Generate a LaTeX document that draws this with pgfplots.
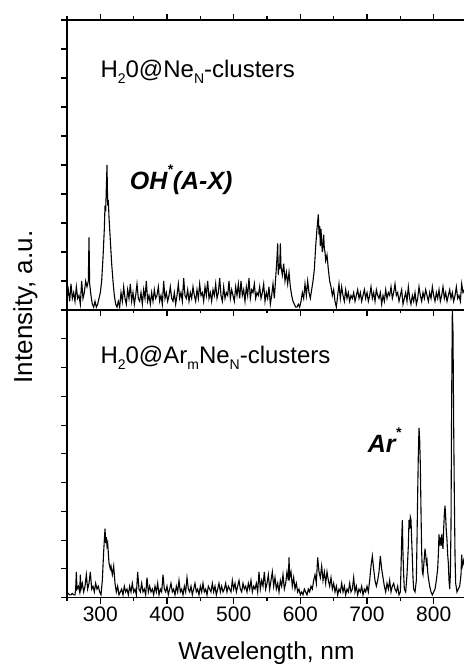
\documentclass[border=0pt]{standalone}
\usepackage{fontspec}
\setmainfont{Liberation Sans}
\usepackage{pgfplots}
\pgfplotsset{compat=1.18}

\newcommand{\lo}[1]{\raisebox{-0.28em}{\fontsize{14bp}{14bp}\selectfont #1}}
\newcommand{\hi}[1]{\raisebox{0.62em}{\fontsize{14bp}{14bp}\selectfont #1}}

% top panel: H2O in Ne clusters
\pgfplotstableread{
x y
250 0.4
252 0.7
254 0.3
256 0.9
258 0.4
260 0.6
262 0.3
264 0.8
266 0.4
268 0.5
270 0.2
272 1.0
274 0.4
276 0.6
278 1.0
280 0.8
282 1.0
283 2.5
284 0.9
286 0.5
288 0.2
290 0.1
292 0.3
294 0.1
296 0.2
298 0.4
300 0.6
302 1.0
304 1.8
306 2.8
307 3.6
308 3.4
309 4.2
310 5.0
311 3.6
312 3.8
313 3.2
315 2.4
317 1.6
319 1.0
321 0.5
323 0.2
325 0.1
327 0.3
329 0.1
331 0.6
333 0.3
335 0.8
337 0.4
339 0.2
341 0.7
343 0.4
345 0.9
347 0.3
349 0.6
351 0.2
353 0.5
355 0.9
357 0.4
359 0.3
361 0.6
363 0.2
365 0.7
367 0.4
369 1.0
371 0.3
373 0.5
375 0.2
377 0.6
379 0.3
381 0.7
383 0.4
385 0.5
387 0.8
389 0.3
391 0.5
393 0.2
395 1.0
397 0.4
399 0.6
401 0.3
403 0.5
405 0.8
407 0.4
409 0.3
411 0.6
413 0.2
415 0.5
417 0.9
419 0.4
421 0.6
423 0.3
425 1.1
427 0.5
429 0.4
431 0.7
433 0.3
435 0.6
437 0.4
439 0.8
441 0.5
443 0.3
445 0.7
447 0.4
449 0.9
451 0.5
453 0.6
455 0.3
457 0.8
459 0.5
461 1.0
463 0.4
465 0.6
467 0.3
469 0.7
471 0.5
473 0.9
475 0.4
477 0.6
479 1.1
481 0.5
483 0.3
485 0.8
487 0.4
489 0.6
491 0.5
493 1.0
495 0.4
497 0.7
499 0.5
501 0.3
503 0.8
505 0.5
507 0.9
509 0.4
511 1.0
513 0.5
515 0.7
517 0.3
519 0.8
521 0.5
523 1.1
525 0.4
527 0.7
529 0.6
531 0.9
533 0.4
535 0.6
537 0.5
539 0.8
541 0.4
543 0.6
545 0.9
547 0.3
549 0.6
551 0.4
553 0.8
555 0.2
557 0.5
559 0.9
561 0.4
563 1.1
565 1.8
566 2.3
567 1.2
568 1.6
569 1.4
570 2.3
571 1.5
573 1.2
575 1.6
577 1.0
579 1.3
581 0.9
583 1.3
585 0.8
587 0.5
589 0.3
591 0.2
593 0.1
595 0.1
597 0.2
599 0.1
601 0.3
603 0.6
605 0.4
607 0.9
609 0.5
611 1.0
613 0.6
615 0.4
617 0.7
619 1.0
621 1.4
623 2.2
625 2.8
627 3.3
628 2.6
629 2.9
630 2.2
631 2.8
632 2.3
633 2.0
635 2.6
636 2.1
637 2.0
638 1.7
640 1.9
642 1.4
644 1.0
646 0.8
648 0.5
650 0.7
652 0.3
654 0.1
656 0.5
658 0.9
660 0.4
662 0.8
664 0.5
666 0.3
668 0.7
670 0.4
672 0.6
674 0.3
676 0.5
678 0.4
680 0.6
682 0.3
684 0.5
686 0.7
688 0.4
690 0.6
692 0.3
694 0.5
696 0.7
698 0.4
700 0.6
702 0.3
704 0.5
706 0.8
708 0.4
710 0.6
712 0.3
714 0.7
716 0.5
718 0.4
720 0.6
722 0.2
724 0.5
726 0.3
728 0.7
730 0.4
732 0.6
734 0.5
736 0.8
738 0.4
740 0.6
742 0.9
744 0.5
746 0.6
748 0.3
750 0.5
752 0.7
754 0.2
756 0.4
758 0.6
760 0.3
762 0.8
764 0.4
766 0.2
768 0.5
770 0.3
772 0.6
774 0.2
776 0.4
778 0.8
780 0.5
782 0.3
784 0.6
786 0.4
788 0.7
790 0.5
792 0.3
794 0.6
796 0.4
798 0.8
800 0.5
802 0.3
804 0.6
806 0.4
808 0.7
810 0.3
812 0.5
814 0.8
816 0.4
818 0.6
820 0.3
822 0.5
824 0.7
826 0.4
828 0.6
830 0.3
832 0.5
834 0.8
836 0.4
838 0.5
840 0.3
842 0.9
844 0.6
846 0.7
}\neondata

% bottom panel: H2O in Ar/Ne clusters
\pgfplotstableread{
x y
250 0.1
252 0.15
254 0.1
256 0.1
258 0.15
260 0.1
262 0.1
263 0.3
264 0.9
265 0.3
267 0.4
269 0.2
270 0.8
271 0.3
273 0.5
275 0.2
277 0.4
279 0.8
281 0.3
283 0.5
285 0.9
287 0.3
289 0.4
291 0.2
293 0.5
295 0.3
297 0.4
299 0.2
301 0.1
303 0.6
305 1.6
306 2.0
307 2.4
308 1.9
309 2.1
310 1.8
311 1.9
313 1.2
315 1.0
316 1.1
318 0.8
320 1.1
322 0.5
324 0.2
326 0.4
328 0.1
330 0.2
332 0.3
334 0.1
336 0.4
338 0.2
340 0.3
342 0.1
344 0.4
346 0.2
348 0.5
350 0.2
352 0.3
354 0.1
356 0.9
358 0.3
360 0.2
362 0.5
364 0.2
366 0.3
368 0.1
370 0.7
372 0.2
374 0.4
376 0.2
378 0.3
380 0.1
382 0.4
384 0.2
386 0.5
388 0.1
390 0.3
392 0.2
394 0.8
396 0.3
398 0.2
400 0.4
402 0.1
404 0.3
406 0.5
408 0.2
410 0.3
412 0.1
414 0.4
416 0.2
418 0.6
420 0.2
422 0.3
424 0.1
426 0.4
428 0.2
430 0.7
432 0.3
434 0.2
436 0.4
438 0.1
440 0.3
442 0.5
444 0.2
446 0.3
448 0.1
450 0.4
452 0.2
454 0.5
456 0.2
458 0.3
460 0.1
462 0.4
464 0.3
466 0.2
468 0.5
470 0.2
472 0.4
474 0.1
476 0.3
478 0.5
480 0.2
482 0.4
484 0.2
486 0.3
488 0.5
490 0.2
492 0.4
494 0.3
496 0.2
498 0.6
500 0.3
502 0.5
504 0.2
506 0.4
508 0.6
510 0.3
512 0.2
514 0.5
516 0.3
518 0.4
520 0.2
522 0.5
524 0.3
526 0.6
528 0.2
530 0.4
532 0.3
534 0.5
536 0.2
538 0.9
540 0.3
542 0.6
544 0.4
546 0.9
548 0.3
550 0.5
552 0.8
554 0.3
556 0.6
558 0.9
560 0.4
562 0.7
564 0.3
566 0.5
568 0.2
570 0.6
572 0.4
574 0.8
576 0.3
578 0.5
580 0.9
582 0.6
583 1.4
584 0.7
586 0.9
588 0.4
590 0.7
592 0.3
594 0.5
596 0.2
598 0.3
600 0.1
602 0.2
604 0.1
606 0.3
608 0.2
610 0.1
612 0.3
614 0.2
616 0.4
618 0.3
620 0.6
622 0.8
624 0.5
626 1.4
628 0.9
630 0.7
632 1.1
634 0.6
636 0.9
638 0.5
640 0.9
642 0.6
644 0.4
646 0.7
648 0.3
650 0.5
652 0.2
654 0.4
656 0.1
658 0.3
660 0.2
662 0.5
664 0.2
666 0.4
668 0.1
670 0.3
672 0.2
674 0.5
676 0.2
678 0.3
680 0.7
682 0.2
684 0.4
686 0.1
688 0.3
690 0.2
692 0.4
694 0.1
696 0.3
698 0.2
700 0.4
702 0.2
704 0.6
706 1.1
708 1.45
710 1.0
712 0.6
714 0.4
716 0.6
718 0.9
720 1.45
722 1.0
724 0.7
726 0.4
728 0.2
730 0.5
732 0.3
734 0.6
736 0.2
738 0.4
740 0.5
742 0.3
744 0.2
746 0.4
748 0.1
750 0.2
751 1.0
752 2.0
753 2.7
754 1.5
755 0.8
756 0.3
758 0.2
760 0.8
762 1.8
763 2.7
764 2.4
765 2.8
766 2.7
767 2.0
768 1.4
769 0.7
770 0.3
772 0.2
774 0.6
775 2.0
776 3.6
777 5.0
778 5.9
779 5.5
780 4.6
781 3.0
782 1.6
783 0.9
784 0.8
785 1.1
786 1.4
787 1.7
788 1.5
789 1.2
790 1.3
791 0.9
792 0.7
794 0.4
796 0.2
798 0.1
800 0.2
802 0.3
804 0.6
806 1.0
807 1.5
808 2.2
809 1.9
810 2.0
811 1.8
812 2.2
813 1.9
814 1.7
815 2.4
816 2.9
817 3.2
818 2.8
819 2.3
820 2.0
821 1.5
822 1.2
823 0.6
824 0.3
825 0.8
826 2.5
827 7.0
828 10.0
829 9.2
830 6.0
831 3.5
832 1.5
833 0.5
835 0.2
837 0.3
839 0.4
841 0.8
842 1.5
843 1.1
845 1.3
847 1.0
}\argondata

\begin{document}
\begin{tikzpicture}
\path[use as bounding box] (0bp,0bp) rectangle (464bp,664bp);
\pgfplotsset{
  panel/.style={
    scale only axis,
    width=399bp,
    xmin=250, xmax=848.5,
    ymin=0, ymax=10,
    tick align=outside,
    xtick={300,400,...,800},
    minor xtick={250,350,...,850},
    ytick={0,1,...,10},
    yticklabels={},
    ytick pos=left,
    major tick length=6bp,
    minor tick length=3.5bp,
    every tick/.style={black, line width=1.1bp},
    axis line style={line width=1.3bp},
    clip=false,
  },
}

\begin{axis}[panel, name=bot,
    at={(67bp,66.3bp)}, anchor=south west,
    height=287.7bp,
    xtick pos=left,
    /pgf/number format/assume math mode=true,
    xticklabel style={font=\fontsize{21bp}{23bp}\selectfont},
]
\addplot[black, line width=1.1bp] table[x=x, y=y] {\argondata};
\node[anchor=base west, inner sep=0pt, font=\fontsize{24bp}{26bp}\selectfont]
  at (axis cs:300,8.15) {H\lo{2}0@Ar\lo{m}Ne\lo{N}-clusters};
\node[anchor=base west, inner sep=0pt, font=\fontsize{25bp}{27bp}\selectfont\bfseries\itshape]
  at (axis cs:701,5.03) {Ar\hi{*}};
\end{axis}

\begin{axis}[panel, name=top,
    at={(67bp,354bp)}, anchor=south west,
    height=290bp,
    xtick pos=both,
    xticklabels={},
]
\addplot[black, line width=1.1bp] table[x=x, y=y] {\neondata};
\node[anchor=base west, inner sep=0pt, font=\fontsize{24bp}{26bp}\selectfont]
  at (axis cs:300,8.03) {H\lo{2}0@Ne\lo{N}-clusters};
\node[anchor=base west, inner sep=0pt, font=\fontsize{25bp}{27bp}\selectfont\bfseries\itshape]
  at (axis cs:344,4.14) {OH\hi{*}(A-X)};
\end{axis}

\node[anchor=base, inner sep=0pt, font=\fontsize{24.5bp}{26bp}\selectfont] at (266.5bp,5bp) {Wavelength, nm};
\node[anchor=base, rotate=90, inner sep=0pt, font=\fontsize{26bp}{28bp}\selectfont] at (32bp,357bp) {Intensity, a.u.};
\end{tikzpicture}
\end{document}
